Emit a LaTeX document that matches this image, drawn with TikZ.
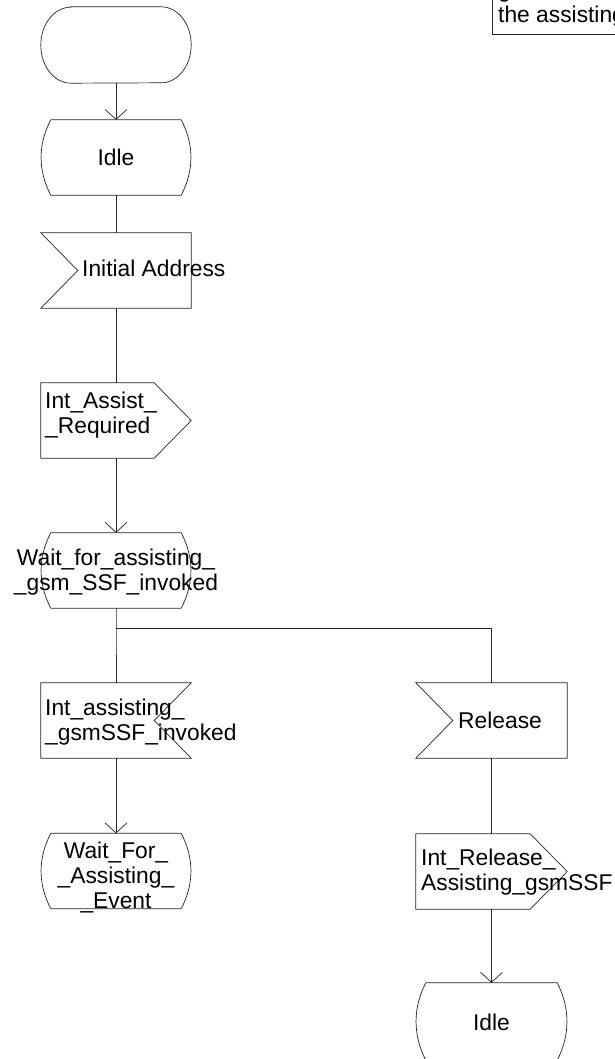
\documentclass[tikz,border=0pt]{standalone}
\usepackage{fontspec}
\setmainfont{Liberation Sans}
\usetikzlibrary{calc,arrows.meta}
\tikzset{
  box/.style={minimum width=150pt,minimum height=75pt,inner sep=0pt,outline/.try},
  lbl/.style={inner sep=0pt,font=\fontsize{22.8}{25}\selectfont},
  ln/.style={line width=0.7pt,draw=black!85},
  arr/.style={ln,-{Straight Barb[length=10pt,width=22pt,line width=0.7pt]}},
}
\newcommand\stateshape[1]{%
  \draw[ln] ($(#1.north west)+(10,0)$) -- ($(#1.north east)+(-10,0)$)
    .. controls ($(#1.north east)+(3,25)$) and ($(#1.south east)+(3,-25)$) .. ($(#1.south east)+(-10,0)$)
    -- ($(#1.south west)+(10,0)$)
    .. controls ($(#1.south west)+(-3,-25)$) and ($(#1.north west)+(-3,25)$) .. cycle;}
\newcommand\inputshape[1]{%
  \draw[ln] (#1.north west) -- (#1.north east) -- (#1.south east) -- (#1.south west)
    -- ($(#1.west)+(37,0)$) -- cycle;}
\newcommand\outputshape[1]{%
  \draw[ln] (#1.north west) -- ($(#1.north east)+(-37,0)$) -- (#1.east)
    -- ($(#1.south east)+(-37,0)$) -- (#1.south west) -- cycle;}
\newcommand\revinputshape[1]{%
  \draw[ln] (#1.north west) -- (#1.north east) -- ($(#1.east)+(-37,0)$)
    -- (#1.south east) -- (#1.south west) -- cycle;}
\newcommand\startshape[1]{%
  \draw[ln] ($(#1.north west)+(30,0)$) -- ($(#1.north east)+(-30,0)$)
    arc[start angle=90,end angle=-90,x radius=30pt,y radius=38pt]
    -- ($(#1.south west)+(30,0)$)
    arc[start angle=270,end angle=90,x radius=30pt,y radius=38pt] -- cycle;}
\begin{document}
\begin{tikzpicture}[x=1pt,y=-1pt]
\useasboundingbox (0,0) rectangle (615,1059);
\clip (0,0) rectangle (615,1059);
\fill[white] (0,0) rectangle (615,1059);
% nodes
\node[box,minimum height=76pt] (start) at (116,45) {};
\node[box] (idle1) at (116,157.5) {};
\node[box] (ia) at (116,270.5) {};
\node[box] (iar) at (116,420.5) {};
\node[box] (wait) at (116,570.5) {};
\coordinate (br) at (116,628);
\node[box] (ias) at (116,720.5) {};
\node[box] (wfa) at (116,871) {};
\node[box,minimum width=151pt] (rel) at (491.5,720.5) {};
\node[box,minimum width=151pt] (irel) at (491.5,871.5) {};
\node[box,minimum width=151pt,minimum height=77pt] (idle2) at (491.5,1021.5) {};
% outlines
\startshape{start}
\stateshape{idle1}
\inputshape{ia}
\outputshape{iar}
\stateshape{wait}
\revinputshape{ias}
\stateshape{wfa}
\inputshape{rel}
\outputshape{irel}
\stateshape{idle2}
% comment box
\draw[ln] (492,-30) rectangle (700,34);
\node[lbl,anchor=base west] (c1) at (498,-2) {g};
\node[lbl,anchor=base west] (c2) at (498,23) {the assisting gsmSSF};
% connectors
\draw[arr] (start.south) -- (idle1.north);
\draw[ln] (idle1.south) -- (ia.north);
\draw[ln] (ia.south) -- (iar.north);
\draw[arr] (iar.south) -- (wait.north);
\draw[ln] (wait.south) -- (br) -- (ias.north);
\draw[ln] (br) -| (rel.north);
\draw[arr] (ias.south) -- (wfa.north);
\draw[ln] (rel.south) -- (irel.north);
\draw[arr] (irel.south) -- (idle2.north);
% labels
\node[lbl,anchor=base] (t1) at (116,166) {Idle};
\node[lbl,anchor=base west] (t2) at (82,276) {Initial Address};
\node[lbl,anchor=base west] (t3a) at (45,408) {Int\_Assist\_};
\node[lbl,anchor=base west] (t3b) at (45,433) {\_Required};
\node[lbl,anchor=base] (t4a) at (116,565) {Wait\_for\_assisting\_};
\node[lbl,anchor=base] (t4b) at (116,590) {\_gsm\_SSF\_invoked};
\node[lbl,anchor=base west] (t5a) at (45,715) {Int\_assisting\_};
\node[lbl,anchor=base west] (t5b) at (45,740) {\_gsmSSF\_invoked};
\node[lbl,anchor=base] (t6a) at (116,858) {Wait\_For\_};
\node[lbl,anchor=base] (t6b) at (116,883) {\_Assisting\_};
\node[lbl,anchor=base] (t6c) at (116,908) {\_Event};
\node[lbl,anchor=base west] (t7) at (458,728) {Release};
\node[lbl,anchor=base west] (t8a) at (421,865) {Int\_Release\_};
\node[lbl,anchor=base west] (t8b) at (421,890) {Assisting\_gsmSSF};
\node[lbl,anchor=base] (t9) at (491.5,1030) {Idle};
\end{tikzpicture}
\end{document}
